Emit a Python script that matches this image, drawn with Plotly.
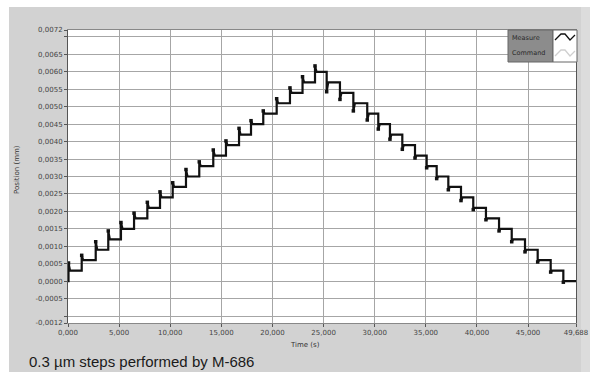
import plotly.graph_objects as go

# ---- data ----
step_times = [0.05, 1.34, 2.71, 3.94, 5.18, 6.46, 7.76, 9.00, 10.24, 11.54,
              12.84, 14.21, 15.45, 16.73, 17.90, 19.10, 20.41, 21.71, 22.94, 24.16,
              25.30, 26.60, 27.91, 29.27, 30.35, 31.49, 32.70, 33.94, 35.08, 36.06,
              37.20, 38.44, 39.64, 40.88, 42.16, 43.40, 44.70, 45.94, 47.21, 48.45]
command_levels = [0.0003, 0.0006, 0.0009, 0.0012, 0.0015, 0.0018, 0.0021, 0.0024, 0.0027, 0.0030,
                  0.0033, 0.0036, 0.0039, 0.0042, 0.0045, 0.0048, 0.0051, 0.0054, 0.0057, 0.0060,
                  0.0057, 0.0054, 0.0051, 0.0048, 0.0045, 0.0042, 0.0039, 0.0036, 0.0033, 0.0030,
                  0.0027, 0.0024, 0.0021, 0.0018, 0.0015, 0.0012, 0.0009, 0.0006, 0.0003, 0.0000]
measure_peaks = [0.00052, 0.00074, 0.00113, 0.00144, 0.00168, 0.00195, 0.00226, 0.00256, 0.00282, 0.00320,
                 0.00342, 0.00376, 0.00402, 0.00438, 0.00460, 0.00488, 0.00523, 0.00554, 0.00586, 0.00617,
                 0.00543, 0.00521, 0.00488, 0.00462, 0.00436, 0.00407, 0.00378, 0.00353, 0.00325, 0.00294,
                 0.00262, 0.00231, 0.00205, 0.00176, 0.00144, 0.00113, 0.00084, 0.00055, 0.00026, -0.00003]
start_level = 0.0
end_time = 49.688
settle_time = 0.15

x_tickvals = [0, 5, 10, 15, 20, 25, 30, 35, 40, 45, 49.688]
x_ticktext = ["0,000", "5,000", "10,000", "15,000", "20,000", "25,000", "30,000",
              "35,000", "40,000", "45,000", "49,688"]
y_tickvals = [-0.0012, -0.0010, -0.0005, 0.0, 0.0005, 0.0010, 0.0015, 0.0020, 0.0025, 0.0030,
              0.0035, 0.0040, 0.0045, 0.0050, 0.0055, 0.0060, 0.0065, 0.0070, 0.0072]
y_ticktext = ["-0,0012", "", "-0,0005", "0,0000", "0,0005", "0,0010", "0,0015", "0,0020", "0,0025",
              "0,0030", "0,0035", "0,0040", "0,0045", "0,0050", "0,0055", "0,0060", "0,0065", "", "0,0072"]

# ---- build traces ----
cmd_x = [0.0] + step_times + [end_time]
cmd_y = [start_level] + command_levels + [command_levels[-1]]

mx, my = [0.0], [start_level]
prev = start_level
for i, t in enumerate(step_times):
    nxt_t = step_times[i + 1] if i + 1 < len(step_times) else end_time
    mx += [t, t, t + settle_time, nxt_t]
    my += [prev, measure_peaks[i], command_levels[i], command_levels[i]]
    prev = command_levels[i]

fig = go.Figure()
fig.add_trace(go.Scatter(x=cmd_x, y=cmd_y, mode="lines", name="Command",
                         line=dict(color="#8a8a8a", width=1, shape="hv")))
fig.add_trace(go.Scatter(x=mx, y=my, mode="lines", name="Measure",
                         line=dict(color="#111111", width=2.2)))
fig.add_trace(go.Scatter(x=step_times, y=measure_peaks, mode="markers", name="Measure peaks",
                         marker=dict(color="#111111", size=3.5, symbol="square"), showlegend=False))

# plot area in page pixels (figure placed at the page origin)
W, H = 590, 372
L, R, T, B = 68, 576, 30, 323


def px(x):
    return (x - L) / (R - L)


def py(y):
    return (B - y) / (B - T)


shapes = [
    # white border of the picture (top and left), lighter strip at the right
    dict(type="rect", xref="paper", yref="paper", x0=px(0), x1=px(W), y0=py(7), y1=py(0),
         fillcolor="white", line=dict(width=0), layer="below"),
    dict(type="rect", xref="paper", yref="paper", x0=px(0), x1=px(9), y0=py(H), y1=py(0),
         fillcolor="white", line=dict(width=0), layer="below"),
    dict(type="rect", xref="paper", yref="paper", x0=px(581), x1=px(W), y0=py(H), y1=py(7),
         fillcolor="#dcdcdc", line=dict(width=0), layer="below"),
    # legend box
    dict(type="rect", xref="paper", yref="paper", x0=px(508), x1=px(553), y0=py(62), y1=py(30),
         fillcolor="#8c8c8c", line=dict(color="#666666", width=1)),
    dict(type="rect", xref="paper", yref="paper", x0=px(553), x1=px(577), y0=py(62), y1=py(30),
         fillcolor="white", line=dict(color="#666666", width=1)),
    dict(type="path", xref="paper", yref="paper",
         path="M {} {} L {} {} L {} {} L {} {} L {} {}".format(
             px(555), py(40), px(561), py(34), px(565), py(34), px(570), py(40), px(575), py(35)),
         line=dict(color="#111111", width=1.3)),
    dict(type="path", xref="paper", yref="paper",
         path="M {} {} L {} {} L {} {} L {} {} L {} {}".format(
             px(555), py(56), px(561), py(50), px(565), py(50), px(570), py(56), px(575), py(51)),
         line=dict(color="#cfcfcf", width=1.3)),
]

annotations = [
    dict(text="Measure", xref="paper", yref="paper", x=px(510), y=py(38), xanchor="left",
         yanchor="middle", showarrow=False, font=dict(size=6.5, color="#2a2a2a")),
    dict(text="Command", xref="paper", yref="paper", x=px(510), y=py(53), xanchor="left",
         yanchor="middle", showarrow=False, font=dict(size=6.5, color="#2a2a2a")),
    dict(text="Time (s)", xref="paper", yref="paper", x=px(305), y=py(345), xanchor="center",
         yanchor="middle", showarrow=False, font=dict(size=7, color="#333333")),
    dict(text="Position (mm)", xref="paper", yref="paper", x=px(17), y=py(170), xanchor="center",
         yanchor="middle", showarrow=False, textangle=-90, font=dict(size=7, color="#333333")),
    dict(text="0.3 µm steps performed by M-686", xref="paper", yref="paper", x=px(27), y=py(361),
         xanchor="left", yanchor="middle", showarrow=False,
         font=dict(size=15, color="#1a1a1a", family="Liberation Sans, Arial, sans-serif")),
]

fig.update_layout(
    width=W, height=H,
    margin=dict(l=L, r=W - R, t=T, b=H - B, autoexpand=False),
    paper_bgcolor="#d2d2d2", plot_bgcolor="white",
    showlegend=False,
    font=dict(family="DejaVu Sans, Verdana, sans-serif", size=7, color="#444444"),
    shapes=shapes, annotations=annotations,
)
fig.update_xaxes(range=[0, end_time], tickvals=x_tickvals, ticktext=x_ticktext, automargin=False,
                 showgrid=True, gridcolor="#a6a6a6", gridwidth=1, zeroline=False,
                 showline=True, linecolor="#888888", mirror=True,
                 ticks="outside", ticklen=3, tickcolor="#555555",
                 tickfont=dict(size=7, color="#444444"))
fig.update_yaxes(range=[-0.0012, 0.0072], tickvals=y_tickvals, ticktext=y_ticktext, automargin=False,
                 showgrid=True, gridcolor="#a6a6a6", gridwidth=1, zeroline=False,
                 showline=True, linecolor="#555555", mirror=True,
                 ticks="outside", ticklen=3, tickcolor="#555555",
                 tickfont=dict(size=7, color="#444444"))

fig.write_html(
    "out.html",
    config={"displayModeBar": False},
    post_script="document.body.style.margin='0';document.body.style.overflow='hidden';",
)
